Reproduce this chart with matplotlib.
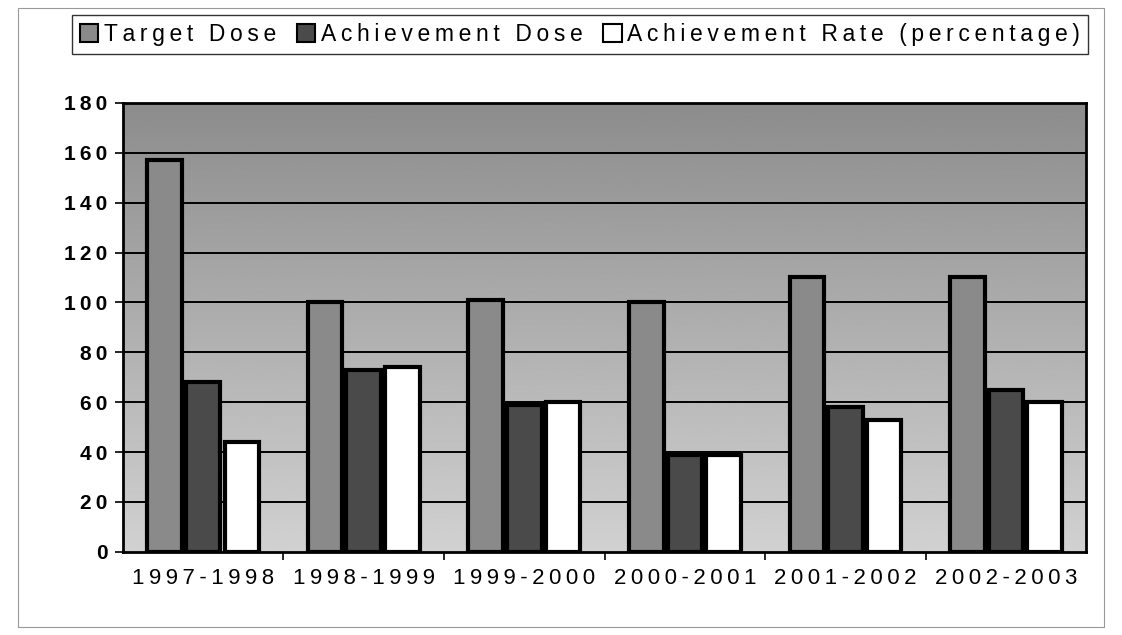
import matplotlib.pyplot as plt
import numpy as np
from matplotlib.patches import Patch, Rectangle

plt.rcParams['font.family'] = ['Liberation Sans', 'DejaVu Sans']

# data
years = ['1997-1998', '1998-1999', '1999-2000', '2000-2001', '2001-2002', '2002-2003']
target_dose = [157, 100, 101, 100, 110, 110]
achievement_dose = [68, 73, 59, 39, 58, 65]
achievement_rate = [44, 74, 60, 39, 53, 60]
yticks = [0, 20, 40, 60, 80, 100, 120, 140, 160, 180]


def spaced(s):
    # wide letter spacing like the old spreadsheet print
    return '\u2009'.join(s)


fig = plt.figure(figsize=(11.22, 6.35), dpi=100)
ax = fig.add_axes([0.1096, 0.131, 0.968 - 0.1096, 0.838 - 0.131])

# grey gradient backdrop, darker at top
grad = np.linspace(0.82, 0.55, 200).reshape(-1, 1)
ax.imshow(grad, cmap='gray', vmin=0, vmax=1, aspect='auto',
          extent=[-0.5, 5.5, 0, 180], origin='lower', zorder=0)

x = np.arange(len(years))
w = 0.215
off = 0.24
ax.bar(x - off, target_dose, w, color='#8a8a8a', edgecolor='black', linewidth=3, zorder=3)
ax.bar(x, achievement_dose, w, color='#4a4a4a', edgecolor='black', linewidth=3, zorder=3)
ax.bar(x + off, achievement_rate, w, color='white', edgecolor='black', linewidth=3, zorder=3)

for v in yticks[1:-1]:
    ax.axhline(v, color='black', linewidth=1.4, zorder=1)

ax.set_xlim(-0.5, 5.5)
ax.set_ylim(0, 180)
ax.set_yticks(yticks)
ax.set_yticklabels([spaced(str(v)) for v in yticks], fontsize=15, fontweight='bold')
ax.set_xticks(x)
ax.set_xticklabels([spaced(y) for y in years], fontsize=16)
ax.tick_params(axis='x', length=0, pad=12)
ax.set_xticks(np.arange(0.5, 5.5, 1), minor=True)
ax.tick_params(axis='x', which='minor', length=6, width=1.2)
ax.tick_params(axis='y', length=6, width=1.2, pad=5)
for s in ax.spines.values():
    s.set_linewidth(2)

handles = [Patch(facecolor='#8a8a8a', edgecolor='black', linewidth=1.5),
           Patch(facecolor='#4a4a4a', edgecolor='black', linewidth=1.5),
           Patch(facecolor='white', edgecolor='black', linewidth=1.5)]
labels = [spaced('Target Dose'), spaced('Achievement Dose'), spaced('Achievement Rate (percentage)')]
leg = fig.legend(handles, labels, loc='upper left', bbox_to_anchor=(72 / 1122, 1 - 15 / 635),
                 ncol=3, fontsize=16.5, frameon=True, fancybox=False, edgecolor='black',
                 handlelength=0.8, handleheight=0.8, handletextpad=0.25, columnspacing=0.9,
                 borderpad=0.35, borderaxespad=0)
leg.get_frame().set_linewidth(1)

# faint outer border of the chart area
fig.patches.append(Rectangle((18 / 1122, 8 / 635), 1 - 36 / 1122, 1 - 16 / 635,
                             transform=fig.transFigure, fill=False, edgecolor='#999999',
                             linewidth=0.8))

fig.savefig('out.png', dpi=100)
